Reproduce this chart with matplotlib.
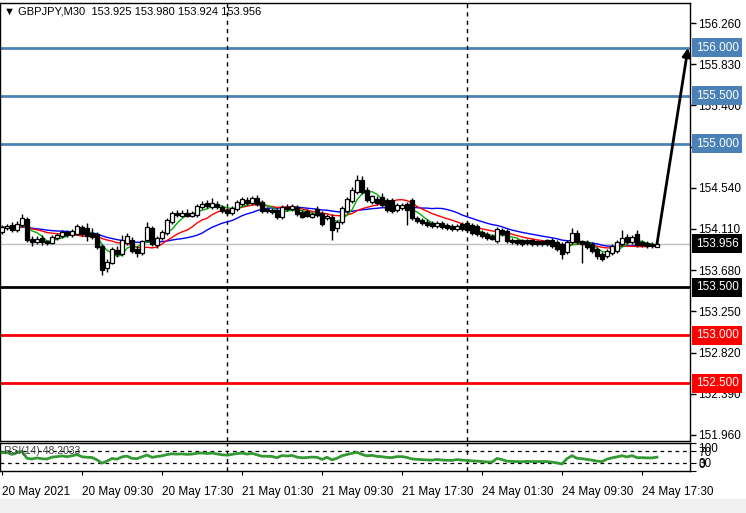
import matplotlib
matplotlib.use("Agg")
import matplotlib.pyplot as plt
import matplotlib.transforms as mtransforms
from matplotlib.patches import Rectangle
import numpy as np
import pandas as pd

plt.rcParams['font.family'] = ['Liberation Sans', 'DejaVu Sans']

# ---------------- data ----------------
symbol_header = "GBPJPY,M30  153.925 153.980 153.924 153.956"
rsi_header = "RSI(14) 48.2033"

prior_close = [154.05, 154.08, 154.10, 154.12, 154.09, 154.11, 154.14, 154.13, 154.10, 154.12,
               154.15, 154.13, 154.11, 154.14, 154.16, 154.12, 154.10, 154.13, 154.15, 154.12, 154.10]

opens = [154.08, 154.12, 154.15, 154.10, 154.15, 154.21, 154.01, 153.97, 154.02, 153.98,
         153.96, 154.02, 154.04, 154.08, 154.05, 154.06, 154.13, 154.12, 154.07, 154.06,
         153.93, 153.70, 153.76, 153.89, 153.85, 153.96, 153.99, 153.90, 153.86, 153.99,
         154.12, 153.94, 154.02, 154.07, 154.18, 154.28, 154.25, 154.28, 154.25, 154.26,
         154.34, 154.38, 154.34, 154.37, 154.34, 154.31, 154.28, 154.32, 154.37, 154.41,
         154.38, 154.43, 154.39, 154.32, 154.31, 154.31, 154.23, 154.34, 154.32, 154.34,
         154.29, 154.30, 154.24, 154.32, 154.28, 154.22, 154.24, 154.12, 154.18, 154.30,
         154.40, 154.50, 154.62, 154.52, 154.39, 154.42, 154.44, 154.41, 154.41, 154.31,
         154.33, 154.37, 154.41, 154.22, 154.20, 154.18, 154.17, 154.14, 154.17, 154.15,
         154.14, 154.11, 154.16, 154.17, 154.15, 154.14, 154.08, 154.06, 154.04, 153.98,
         154.10, 154.09, 154.00, 153.99, 153.99, 153.99, 153.99, 153.98, 153.98, 153.99,
         154.00, 153.97, 153.95, 153.87, 153.97, 154.07, 153.98, 153.97, 153.95, 153.90,
         153.85, 153.83, 153.86, 153.88, 153.95, 154.03, 153.97, 154.06, 153.97, 153.96,
         153.95, 153.925]
highs = [154.15, 154.16, 154.18, 154.19, 154.27, 154.23, 154.04, 154.04, 154.05, 154.00,
         154.05, 154.07, 154.10, 154.10, 154.11, 154.16, 154.15, 154.17, 154.12, 154.08,
         153.95, 153.80, 153.92, 153.93, 154.05, 154.07, 154.03, 153.93, 154.00, 154.18,
         154.14, 154.04, 154.10, 154.22, 154.30, 154.31, 154.31, 154.32, 154.30, 154.37,
         154.40, 154.41, 154.43, 154.40, 154.36, 154.33, 154.35, 154.41, 154.44, 154.44,
         154.45, 154.47, 154.41, 154.34, 154.33, 154.33, 154.36, 154.37, 154.37, 154.36,
         154.31, 154.32, 154.29, 154.35, 154.30, 154.27, 154.27, 154.20, 154.35, 154.44,
         154.55, 154.67, 154.66, 154.55, 154.47, 154.45, 154.49, 154.43, 154.43, 154.38,
         154.38, 154.39, 154.43, 154.25, 154.22, 154.21, 154.19, 154.19, 154.19, 154.17,
         154.16, 154.16, 154.18, 154.19, 154.17, 154.16, 154.10, 154.08, 154.06, 154.13,
         154.12, 154.11, 154.02, 154.01, 154.01, 154.01, 154.01, 154.00, 154.00, 154.01,
         154.02, 153.99, 153.97, 153.99, 154.12, 154.10, 154.00, 153.99, 153.97, 153.92,
         153.87, 153.90, 153.95, 153.99, 154.10, 154.06, 154.05, 154.10, 153.99, 153.98,
         153.97, 153.98]
lows = [154.06, 154.10, 154.08, 154.08, 154.13, 153.97, 153.93, 153.95, 153.94, 153.94,
        153.95, 154.00, 154.02, 154.03, 154.03, 154.05, 154.04, 153.98, 154.01, 153.90,
        153.63, 153.66, 153.74, 153.82, 153.83, 153.94, 153.86, 153.82, 153.84, 153.97,
        153.93, 153.91, 154.00, 154.05, 154.16, 154.24, 154.23, 154.23, 154.23, 154.24,
        154.32, 154.33, 154.32, 154.32, 154.28, 154.26, 154.26, 154.30, 154.35, 154.36,
        154.36, 154.35, 154.28, 154.28, 154.27, 154.21, 154.21, 154.30, 154.30, 154.25,
        154.22, 154.23, 154.22, 154.24, 154.14, 154.20, 153.99, 154.08, 154.16, 154.28,
        154.38, 154.48, 154.48, 154.39, 154.37, 154.36, 154.34, 154.29, 154.28, 154.29,
        154.31, 154.15, 154.20, 154.17, 154.15, 154.13, 154.12, 154.12, 154.11, 154.10,
        154.09, 154.09, 154.09, 154.08, 154.05, 154.04, 154.02, 154.00, 153.99, 153.96,
        154.04, 153.96, 153.95, 153.94, 153.93, 153.94, 153.93, 153.93, 153.93, 153.93,
        153.91, 153.88, 153.80, 153.85, 153.95, 153.95, 153.76, 153.90, 153.86, 153.80,
        153.78, 153.81, 153.84, 153.86, 153.93, 153.95, 153.95, 153.92, 153.92, 153.91,
        153.91, 153.924]
closes = [154.13, 154.14, 154.10, 154.16, 154.22, 154.00, 153.97, 154.01, 153.97, 153.96,
          154.03, 154.05, 154.08, 154.05, 154.09, 154.14, 154.06, 154.04, 154.03, 153.92,
          153.68, 153.77, 153.90, 153.85, 153.99, 154.04, 153.88, 153.86, 153.98, 154.13,
          153.95, 154.02, 154.08, 154.20, 154.28, 154.26, 154.28, 154.25, 154.28, 154.35,
          154.37, 154.35, 154.38, 154.34, 154.30, 154.28, 154.33, 154.39, 154.42, 154.38,
          154.43, 154.37, 154.30, 154.30, 154.29, 154.23, 154.34, 154.32, 154.35, 154.27,
          154.24, 154.25, 154.27, 154.26, 154.16, 154.25, 154.10, 154.18, 154.33, 154.42,
          154.52, 154.62, 154.50, 154.41, 154.45, 154.38, 154.36, 154.31, 154.30, 154.36,
          154.36, 154.31, 154.22, 154.19, 154.17, 154.15, 154.14, 154.17, 154.13, 154.12,
          154.11, 154.14, 154.11, 154.10, 154.07, 154.06, 154.04, 154.02, 154.01, 154.11,
          154.06, 153.98, 153.97, 153.96, 153.95, 153.96, 153.95, 153.95, 153.95, 153.95,
          153.93, 153.90, 153.85, 153.97, 154.07, 153.97, 153.95, 153.92, 153.88, 153.83,
          153.80, 153.88, 153.93, 153.97, 154.02, 153.97, 154.03, 153.94, 153.94, 153.93,
          153.93, 153.956]

ma_periods = {"fast": 5, "mid": 12, "slow": 21}
rsi_period = 14

blue_levels = [156.0, 155.5, 155.0]
black_level = 153.5
red_levels = [153.0, 152.5]
bid_price = 153.956
target_price = 156.0

price_ticks = [156.26, 155.83, 155.40, 154.97, 154.54, 154.11, 153.68, 153.25, 152.82, 152.39, 151.96]
rsi_ticks = [100, 70, 30, 0]
time_labels = ["20 May 2021", "20 May 09:30", "20 May 17:30", "21 May 01:30", "21 May 09:30",
               "21 May 17:30", "24 May 01:30", "24 May 09:30", "24 May 17:30"]
time_label_bars = [0, 16, 32, 48, 64, 80, 96, 112, 128]
day_separator_bars = [45, 93]

# ---------------- derived indicators ----------------
n = len(closes)
idx = np.arange(n)
all_close = pd.Series(prior_close + closes)
k = len(prior_close)
ma_fast = all_close.rolling(ma_periods["fast"], min_periods=1).mean().values[k:]
ma_mid = all_close.rolling(ma_periods["mid"], min_periods=1).mean().values[k:]
ma_slow = all_close.rolling(ma_periods["slow"], min_periods=1).mean().values[k:]
delta = all_close.diff()
gain = delta.clip(lower=0).ewm(alpha=1 / rsi_period, adjust=False).mean()
loss = (-delta.clip(upper=0)).ewm(alpha=1 / rsi_period, adjust=False).mean()
rsi = (100 - 100 / (1 + gain / loss)).values[k:]

# ---------------- figure ----------------
W, H = 746, 513
fig = plt.figure(figsize=(W / 100, H / 100), dpi=100)
fig.patches.append(Rectangle((0, 0), 1, 14 / H, transform=fig.transFigure,
                             color="#f0f0f0", zorder=0))

ax = fig.add_axes([0, 1 - 441 / H, 690 / W, (441 - 3) / H])
ax2 = fig.add_axes([0, 1 - 471 / H, 690 / W, (471 - 443) / H])

xmin, xmax = -0.4, 137.6
ax.set_xlim(xmin, xmax)
ax2.set_xlim(xmin, xmax)
ax.set_ylim(151.897, 156.469)
ax2.set_ylim(0, 100)

# horizontal levels
for lv in blue_levels:
    ax.axhline(lv, color="#4a82b8", lw=2, zorder=1)
ax.axhline(black_level, color="black", lw=2, zorder=1)
for lv in red_levels:
    ax.axhline(lv, color="#ff0000", lw=2, zorder=1)
ax.axhline(bid_price, color="#c0c0c0", lw=1, zorder=1)

# day separators
for b in day_separator_bars:
    ax.axvline(b, color="black", lw=1, ls=(0, (3, 3)), zorder=1)
    ax2.axvline(b, color="black", lw=1, ls=(0, (3, 3)), zorder=1)

# moving averages
ax.plot(idx, ma_slow, color="#0000ff", lw=1, zorder=2)
ax.plot(idx, ma_mid, color="#ff0000", lw=1, zorder=2)
ax.plot(idx, ma_fast, color="#00b000", lw=1, zorder=2)

# candles
o = np.array(opens); c = np.array(closes); h = np.array(highs); l = np.array(lows)
ax.vlines(idx, l, h, color="black", lw=1, zorder=3)
up = c >= o
body_bottom = np.minimum(o, c)
body_h = np.maximum(np.abs(c - o), 0.004)
ax.bar(idx[up], body_h[up], bottom=body_bottom[up], width=0.65, color="white",
       edgecolor="black", linewidth=0.9, zorder=4)
ax.bar(idx[~up], body_h[~up], bottom=body_bottom[~up], width=0.65, color="black",
       edgecolor="black", linewidth=0.9, zorder=4)

# arrow to target
ax.annotate("", xy=(137.2, target_price), xytext=(n - 1, bid_price),
            arrowprops=dict(arrowstyle="-|>", color="black", lw=2, mutation_scale=12,
                            shrinkA=0, shrinkB=0), zorder=5, annotation_clip=False)

# right price axis
ax.yaxis.tick_right()
ax.set_yticks(price_ticks)
ax.set_yticklabels([f"{t:.3f}" for t in price_ticks])
ax.tick_params(axis="y", direction="out", length=4, width=1, pad=2, labelsize=8.5,
               colors="black")
ax.set_xticks([])
for s in ax.spines.values():
    s.set_linewidth(1)

trans = mtransforms.blended_transform_factory(ax.transAxes, ax.transData)
def price_box(val, fc, tc="white"):
    ax.text(1.0085, val, f"{val:.3f}", transform=trans, ha="left", va="center",
            fontsize=8.5, color=tc, zorder=6, clip_on=False,
            bbox=dict(boxstyle="square,pad=0.3", fc=fc, ec="none"))

for lv in blue_levels:
    price_box(lv, "#4a82b8")
price_box(bid_price, "black")
price_box(black_level, "black")
for lv in red_levels:
    price_box(lv, "#ff0000")

# header
fig.text(4 / W, 1 - 12 / H, "\u25bc " + symbol_header, ha="left", va="center",
         fontsize=8, color="black")

# RSI panel
ax2.plot(idx, rsi, color="#339933", lw=2, zorder=3)
ax2.axhline(70, color="black", lw=0.9, ls=(0, (3, 3)), zorder=1)
ax2.axhline(30, color="black", lw=0.9, ls=(0, (3, 3)), zorder=1)
ax2.yaxis.tick_right()
ax2.set_yticks(rsi_ticks)
ax2.set_yticklabels([str(t) for t in rsi_ticks])
ax2.tick_params(axis="y", direction="out", length=4, pad=2, labelsize=8.5)
tl = ax2.get_yticklabels()
tl[0].set_va("top")
tl[3].set_va("bottom")
ax2.text(0.006, 0.72, rsi_header, transform=ax2.transAxes, ha="left", va="center",
         fontsize=7.5, color="#404040", zorder=4)
ax2.set_xticks(time_label_bars)
ax2.set_xticklabels(time_labels, ha="left")
ax2.tick_params(axis="x", direction="out", length=3, pad=8, labelsize=8.5)
for s in ax2.spines.values():
    s.set_linewidth(1)

fig.savefig("out.png", dpi=100)
